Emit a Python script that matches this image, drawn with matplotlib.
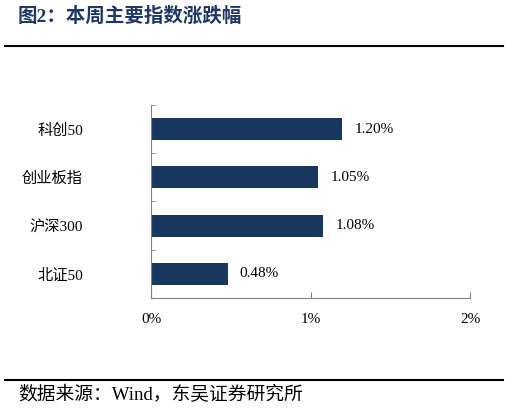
import matplotlib
matplotlib.use("Agg")
import matplotlib.pyplot as plt
from matplotlib.lines import Line2D

FONTS = ['Liberation Serif', 'Noto Sans CJK SC']
plt.rcParams['font.family'] = FONTS

categories = ['科创50', '创业板指', '沪深300', '北证50']
changes = [1.20, 1.05, 1.08, 0.48]
labels = ['1.20%', '1.05%', '1.08%', '0.48%']
xticks = [0, 1, 2]
xticklabels = ['0%', '1%', '2%']

BAR_COLOR = '#17375E'
TITLE_COLOR = '#1F3864'
SPINE_COLOR = '#808080'

fig = plt.figure(figsize=(5.09, 4.13), dpi=100)
ax = fig.add_axes([0.2967, 0.2785, 0.6267, 0.4673])

ypos = list(range(len(categories)))
ax.barh(ypos, changes, height=0.46, color=BAR_COLOR)
for y, v, lab in zip(ypos, changes, labels):
    ax.text(v + 0.075, y, lab, va='center', ha='left', fontsize=11)

ax.set_xlim(0, 2)
ax.set_ylim(len(categories) - 0.5, -0.5)
ax.set_xticks(xticks)
ax.set_xticklabels(xticklabels, fontsize=11)
ax.set_yticks(ypos)
ax.set_yticklabels(categories, fontsize=11)
ax.tick_params(axis='y', which='major', length=0, pad=49)
ax.set_yticks([i - 0.5 for i in range(len(categories) + 1)], minor=True)
ax.tick_params(axis='y', which='minor', direction='in', length=3, color=SPINE_COLOR)
ax.tick_params(axis='x', direction='in', length=4, color=SPINE_COLOR, pad=11)

for side in ['top', 'right']:
    ax.spines[side].set_visible(False)
for side in ['left', 'bottom']:
    ax.spines[side].set_color(SPINE_COLOR)
    ax.spines[side].set_linewidth(0.8)

fig.text(0.035, 0.961, '图2：本周主要指数涨跌幅', fontsize=14, fontweight='bold',
         color=TITLE_COLOR, va='center', ha='left')
fig.add_artist(Line2D([0.01, 0.988], [0.889, 0.889], color='black', lw=1.5))
fig.add_artist(Line2D([0.01, 0.988], [0.080, 0.080], color='black', lw=1.5))
fig.text(0.035, 0.043, '数据来源：Wind，东吴证券研究所', fontsize=13.5,
         color='black', va='center', ha='left')

fig.savefig('out.png', dpi=100)
